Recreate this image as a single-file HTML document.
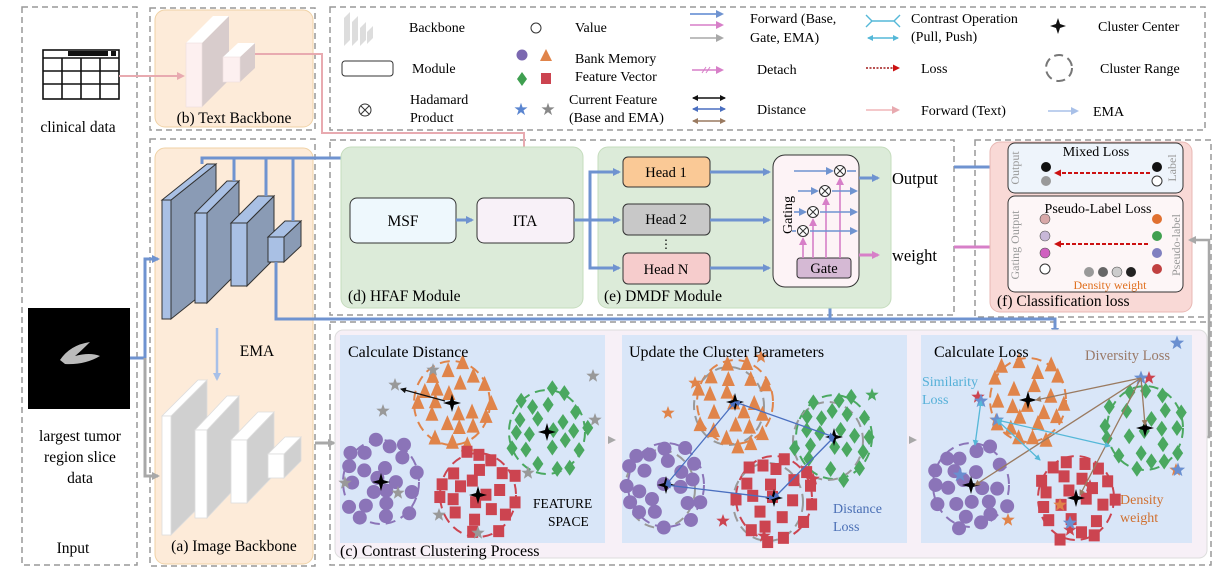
<!DOCTYPE html>
<html><head><meta charset="utf-8"><style>
html,body{margin:0;padding:0;background:#fff}
svg{display:block;font-family:"Liberation Serif",serif}
</style></head><body>
<svg id="s" width="1213" height="573" viewBox="0 0 1213 573" xmlns="http://www.w3.org/2000/svg">
<defs>
<marker id="ab" markerWidth="8" markerHeight="8" refX="6" refY="4" orient="auto" markerUnits="userSpaceOnUse"><path d="M0,0 L8,4 L0,8 z" fill="#6f93d0"/></marker>
<marker id="ap" markerWidth="8" markerHeight="8" refX="6" refY="4" orient="auto" markerUnits="userSpaceOnUse"><path d="M0,0 L8,4 L0,8 z" fill="#e8aab0"/></marker>
<marker id="am" markerWidth="8" markerHeight="8" refX="6" refY="4" orient="auto" markerUnits="userSpaceOnUse"><path d="M0,0 L8,4 L0,8 z" fill="#d77fc8"/></marker>
<marker id="ag" markerWidth="8" markerHeight="8" refX="6" refY="4" orient="auto" markerUnits="userSpaceOnUse"><path d="M0,0 L8,4 L0,8 z" fill="#a8a8a8"/></marker>
<marker id="al" markerWidth="8" markerHeight="8" refX="6" refY="4" orient="auto" markerUnits="userSpaceOnUse"><path d="M0,0 L8,4 L0,8 z" fill="#a8c0e8"/></marker>
<marker id="ar" markerWidth="7" markerHeight="7" refX="5" refY="3.5" orient="auto" markerUnits="userSpaceOnUse"><path d="M0,0 L7,3.5 L0,7 z" fill="#cc1111"/></marker>
<marker id="ak" markerWidth="6" markerHeight="6" refX="5" refY="3" orient="auto-start-reverse" markerUnits="userSpaceOnUse"><path d="M0,0 L6,3 L0,6 z" fill="#111"/></marker>
<marker id="ab2" markerWidth="6" markerHeight="6" refX="5" refY="3" orient="auto-start-reverse" markerUnits="userSpaceOnUse"><path d="M0,0 L6,3 L0,6 z" fill="#4a6fc0"/></marker>
<marker id="ac" markerWidth="6" markerHeight="6" refX="5" refY="3" orient="auto-start-reverse" markerUnits="userSpaceOnUse"><path d="M0,0 L6,3 L0,6 z" fill="#55b8d8"/></marker>
<marker id="abr" markerWidth="6" markerHeight="6" refX="5" refY="3" orient="auto-start-reverse" markerUnits="userSpaceOnUse"><path d="M0,0 L6,3 L0,6 z" fill="#9a7a60"/></marker>
</defs>
<g fill="none" stroke="#999" stroke-width="1.5" stroke-dasharray="6,4">
<rect x="22" y="7" width="115" height="558"/>
<rect x="150" y="8" width="165" height="122"/>
<rect x="150" y="139" width="165" height="427"/>
<rect x="330" y="7" width="875" height="123"/>
<rect x="330" y="140" width="624" height="175"/>
<rect x="975" y="140" width="236" height="177"/>
<rect x="330" y="322" width="881" height="243"/>
</g>
<rect x="155" y="10" width="158" height="117" rx="10" fill="#fdebd9" stroke="#f0d2a5"/>
<rect x="155" y="148" width="158" height="416" rx="10" fill="#fdebd9" stroke="#f0d2a5"/>
<g stroke="#111" stroke-width="1.6" fill="#fff">
<rect x="43" y="50" width="76" height="49"/>
<line x1="43" y1="58" x2="119" y2="58"/><line x1="43" y1="71" x2="119" y2="71"/><line x1="43" y1="84" x2="119" y2="84"/>
<line x1="62" y1="58" x2="62" y2="99"/><line x1="81" y1="58" x2="81" y2="99"/><line x1="100" y1="58" x2="100" y2="99"/>
</g>
<rect x="68" y="51" width="40" height="5" fill="#111"/><rect x="111" y="51" width="5" height="5" fill="#111"/>
<text x="78" y="132" font-size="15.5" text-anchor="middle">clinical data</text>
<rect x="28" y="308" width="102" height="101" fill="#000"/>
<path d="M60,360 Q70,345 90,342 Q80,352 75,356 Q90,352 100,356 Q85,365 65,364 Z" fill="#bbb"/>
<text x="80" y="441" font-size="15.5" text-anchor="middle">largest tumor</text>
<text x="80" y="462" font-size="15.5" text-anchor="middle">region slice</text>
<text x="80" y="483" font-size="15.5" text-anchor="middle">data</text>
<text x="73" y="553" font-size="15.5" text-anchor="middle">Input</text>
<polygon points="202,43 229,16 229,80 202,107" fill="#d8cccc"/><polygon points="186,43 202,43 229,16 213,16" fill="#fff"/>
<rect x="186" y="43" width="16" height="64" fill="#fdf0f0" stroke="#eedede" stroke-width=".6"/>
<polygon points="240,57 255,43 255,68 240,82" fill="#d8cccc"/><polygon points="223,57 240,57 255,43 238,43" fill="#fff"/>
<rect x="223" y="57" width="17" height="25" fill="#fdf0f0" stroke="#eedede" stroke-width=".6"/>
<text x="234" y="123" font-size="15.5" text-anchor="middle">(b) Text Backbone</text>
<line x1="119" y1="76" x2="183" y2="76" stroke="#e8aab0" stroke-width="2" marker-end="url(#ap)"/>
<polyline points="255,54 322,54 322,133 524,133 524,192" fill="none" stroke="#e8aab0" stroke-width="2" marker-end="url(#ap)"/>
<g stroke="#333" stroke-width="1">
<polygon points="171,200 216,164 216,283 171,319" fill="#8a9bb5"/><polygon points="162,200 171,200 216,164 207,164" fill="#a9c0e4"/><rect x="162" y="200" width="9" height="119" fill="#a9c0e4"/>
<polygon points="207,213 239,181 239,271 207,303" fill="#8a9bb5"/><polygon points="195,213 207,213 239,181 227,181" fill="#a9c0e4"/><rect x="195" y="213" width="12" height="90" fill="#a9c0e4"/>
<polygon points="247,223 274,196 274,259 247,286" fill="#8a9bb5"/><polygon points="231,223 247,223 274,196 258,196" fill="#a9c0e4"/><rect x="231" y="223" width="16" height="63" fill="#a9c0e4"/>
<polygon points="284,237 301,221 301,246 284,262" fill="#8a9bb5"/><polygon points="268,237 284,237 301,221 285,221" fill="#a9c0e4"/><rect x="268" y="237" width="16" height="25" fill="#a9c0e4"/>
</g>
<g fill="none" stroke="#6f93d0" stroke-width="3">
<polyline points="202,164 202,158 403,158 403,194" marker-end="url(#ab)"/>
<line x1="234" y1="158" x2="234" y2="181"/><line x1="266" y1="158" x2="266" y2="196"/><line x1="293" y1="158" x2="293" y2="221"/>
<polyline points="276,262 276,319 1055,319 1055,334" marker-end="url(#ab)"/>
<polyline points="830,319 830,286" marker-end="url(#ab)"/>
<polyline points="130,358 145,358 145,259 158,259" marker-end="url(#ab)"/>
</g>
<polyline points="145,358 145,476 158,476" fill="none" stroke="#a8a8a8" stroke-width="3" marker-end="url(#ag)"/>
<line x1="217" y1="328" x2="217" y2="379" stroke="#a8c0e8" stroke-width="2.5" marker-end="url(#al)"/>
<text x="257" y="356" font-size="15.5" text-anchor="middle">EMA</text>
<g stroke="#ddd" stroke-width=".8">
<polygon points="171,416 207,380 207,499 171,535" fill="#d0d0d0"/><polygon points="162,416 171,416 207,380 198,380" fill="#fff"/><rect x="162" y="416" width="9" height="119" fill="#fff"/>
<polygon points="207,430 239,396 239,484 207,518" fill="#d0d0d0"/><polygon points="195,430 207,430 239,396 227,396" fill="#fff"/><rect x="195" y="430" width="12" height="88" fill="#fff"/>
<polygon points="247,440 274,412 274,475 247,503" fill="#d0d0d0"/><polygon points="231,440 247,440 274,412 258,412" fill="#fff"/><rect x="231" y="440" width="16" height="63" fill="#fff"/>
<polygon points="284,454 301,437 301,461 284,478" fill="#d0d0d0"/><polygon points="268,454 284,454 301,437 285,437" fill="#fff"/><rect x="268" y="454" width="16" height="24" fill="#fff"/>
</g>
<line x1="315" y1="443" x2="334" y2="443" stroke="#a8a8a8" stroke-width="3" marker-end="url(#ag)"/>
<text x="234" y="551" font-size="15.5" text-anchor="middle">(a) Image Backbone</text>
<g font-size="14">
<polygon points="344,18 350,12 350,40 344,46" fill="#ddd"/><polygon points="352,22 358,16 358,40 352,46" fill="#ddd"/><polygon points="360,28 366,22 366,40 360,46" fill="#ddd"/><polygon points="367,32 373,26 373,38 367,44" fill="#ddd"/>
<text x="409" y="32">Backbone</text>
<rect x="342" y="61" width="51" height="15" rx="3" fill="#fff" stroke="#333"/><text x="412" y="73">Module</text>
<circle cx="365" cy="110" r="6" fill="#fff" stroke="#333"/><path d="M361,106 L369,114 M369,106 L361,114" stroke="#333"/>
<text x="410" y="104">Hadamard</text><text x="410" y="122">Product</text>
<circle cx="536" cy="28" r="5" fill="#fff" stroke="#333"/><text x="575" y="32">Value</text>
<circle cx="522" cy="55" r="5.5" fill="#7b68b0"/><polygon points="546,49 552,61 540,61" fill="#e0844a"/>
<polygon points="522,72 527,79 522,86 517,79" fill="#3f9f50"/><rect x="541" y="73" width="10" height="11" fill="#cc4450"/>
<text x="575" y="63">Bank Memory</text><text x="575" y="81">Feature Vector</text>
<text x="521" y="115" font-size="17" fill="#5a85d0" text-anchor="middle">★</text><text x="548" y="115" font-size="17" fill="#888" text-anchor="middle">★</text>
<text x="569" y="104">Current Feature</text><text x="569" y="122">(Base and EMA)</text>
<line x1="690" y1="14" x2="722" y2="14" stroke="#5a85d0" stroke-width="1.6" marker-end="url(#ab)"/>
<line x1="690" y1="25" x2="722" y2="25" stroke="#d77fc8" stroke-width="1.6" marker-end="url(#am)"/>
<line x1="690" y1="38" x2="722" y2="38" stroke="#a8a8a8" stroke-width="1.6" marker-end="url(#ag)"/>
<text x="750" y="23">Forward (Base,</text><text x="750" y="42">Gate, EMA)</text>
<line x1="692" y1="70" x2="722" y2="70" stroke="#d77fc8" stroke-width="1.6" marker-end="url(#am)"/><path d="M702,73 L706,67 M706,73 L710,67" stroke="#d77fc8"/>
<text x="757" y="74">Detach</text>
<line x1="693" y1="98" x2="725" y2="98" stroke="#111" stroke-width="1.4" marker-start="url(#ak)" marker-end="url(#ak)"/>
<line x1="693" y1="109" x2="725" y2="109" stroke="#4a6fc0" stroke-width="1.4" marker-start="url(#ab2)" marker-end="url(#ab2)"/>
<line x1="693" y1="121" x2="725" y2="121" stroke="#9a7a60" stroke-width="1.4" marker-start="url(#abr)" marker-end="url(#abr)"/>
<text x="757" y="114">Distance</text>
<path d="M866,15 L872,21 L894,21 L900,15 M866,27 L872,21 M894,21 L900,27" stroke="#55b8d8" fill="none" stroke-width="1.4"/>
<line x1="868" y1="38" x2="898" y2="38" stroke="#55b8d8" stroke-width="1.4" marker-start="url(#ac)" marker-end="url(#ac)"/>
<text x="911" y="23">Contrast Operation</text><text x="911" y="41">(Pull, Push)</text>
<line x1="866" y1="68" x2="898" y2="68" stroke="#a01818" stroke-width="1.5" stroke-dasharray="2,1.5" marker-end="url(#ar)"/><text x="921" y="73">Loss</text>
<line x1="866" y1="110" x2="898" y2="110" stroke="#f0b5b8" stroke-width="1.6" marker-end="url(#ap)"/><text x="921" y="115">Forward (Text)</text>
<path d="M1058,18 L1060,24 L1066,26 L1060,28 L1058,34 L1056,28 L1050,26 L1056,24 Z" fill="#111"/><text x="1098" y="31">Cluster Center</text>
<circle cx="1059" cy="68" r="13" fill="none" stroke="#777" stroke-width="2" stroke-dasharray="9,5"/><text x="1100" y="73">Cluster Range</text>
<line x1="1048" y1="111" x2="1077" y2="111" stroke="#a8c0e8" stroke-width="1.6" marker-end="url(#al)"/><text x="1093" y="116">EMA</text>
</g>
<rect x="341" y="147" width="242" height="161" rx="10" fill="#dcebd9" stroke="#c5dcbd"/>
<rect x="350" y="198" width="106" height="45" rx="7" fill="#eef8fd" stroke="#333"/>
<text x="403" y="226" font-size="15.5" text-anchor="middle">MSF</text>
<rect x="477" y="198" width="97" height="45" rx="7" fill="#f8f1f8" stroke="#333"/>
<text x="525" y="226" font-size="15.5" text-anchor="middle">ITA</text>
<line x1="456" y1="220" x2="472" y2="220" stroke="#6f93d0" stroke-width="3" marker-end="url(#ab)"/>
<text x="348" y="301" font-size="15.5">(d) HFAF Module</text>
<rect x="598" y="147" width="293" height="161" rx="10" fill="#dcebd9" stroke="#c5dcbd"/>
<rect x="623" y="157" width="87" height="30" rx="5" fill="#fac996" stroke="#333"/><text x="666" y="177" font-size="14.5" text-anchor="middle">Head 1</text>
<rect x="623" y="204" width="87" height="31" rx="5" fill="#c8c8c8" stroke="#333"/><text x="666" y="224" font-size="14.5" text-anchor="middle">Head 2</text>
<text x="666" y="248" font-size="12" text-anchor="middle">⋮</text>
<rect x="623" y="253" width="87" height="31" rx="5" fill="#f6cccc" stroke="#333"/><text x="666" y="274" font-size="14.5" text-anchor="middle">Head N</text>
<g fill="none" stroke="#6f93d0" stroke-width="3">
<polyline points="574,220 590,220 590,172 619,172" marker-end="url(#ab)"/>
<polyline points="590,220 619,220" marker-end="url(#ab)"/>
<polyline points="590,220 590,268 619,268" marker-end="url(#ab)"/>
<line x1="710" y1="172" x2="769" y2="172" marker-end="url(#ab)"/>
<line x1="710" y1="220" x2="769" y2="220" marker-end="url(#ab)"/>
<line x1="710" y1="268" x2="769" y2="268" marker-end="url(#ab)"/>
</g>
<text x="604" y="301" font-size="15.5">(e) DMDF Module</text>
<rect x="773" y="155" width="86" height="132" rx="12" fill="#fdf3f6" stroke="#333"/>
<text transform="translate(792,215) rotate(-90)" font-size="14" text-anchor="middle">Gating</text>
<rect x="797" y="258" width="54" height="20" rx="3" fill="#d5b9d4" stroke="#333"/><text x="824" y="273" font-size="14.5" text-anchor="middle">Gate</text>
<g stroke="#d77fc8" stroke-width="1.6" fill="none">
<line x1="803" y1="258" x2="803" y2="239" marker-end="url(#am)"/><line x1="813" y1="258" x2="813" y2="220" marker-end="url(#am)"/>
<line x1="826" y1="258" x2="826" y2="199" marker-end="url(#am)"/><line x1="840" y1="258" x2="840" y2="179" marker-end="url(#am)"/>
</g>
<g stroke="#6f93d0" stroke-width="1.6" fill="none">
<line x1="794" y1="171" x2="832" y2="171" marker-end="url(#ab)"/><line x1="847" y1="171" x2="856" y2="171"/>
<line x1="798" y1="191" x2="817" y2="191" marker-end="url(#ab)"/><line x1="832" y1="191" x2="856" y2="191" marker-end="url(#ab)"/>
<line x1="794" y1="212" x2="805" y2="212" marker-end="url(#ab)"/><line x1="820" y1="212" x2="856" y2="212" marker-end="url(#ab)"/>
<line x1="792" y1="231" x2="796" y2="231"/><line x1="810" y1="231" x2="856" y2="231" marker-end="url(#ab)"/>
</g>
<g fill="#fff" stroke="#333">
<circle cx="840" cy="171" r="5.5"/><circle cx="825" cy="191" r="5.5"/><circle cx="813" cy="212" r="5.5"/><circle cx="803" cy="231" r="5.5"/>
<path d="M836,167 L844,175 M844,167 L836,175 M821,187 L829,195 M829,187 L821,195 M809,208 L817,216 M817,208 L809,216 M799,227 L807,235 M807,227 L799,235"/>
</g>
<line x1="859" y1="178" x2="878" y2="178" stroke="#6f93d0" stroke-width="3" marker-end="url(#ab)"/>
<line x1="859" y1="255" x2="878" y2="255" stroke="#d77fc8" stroke-width="3" marker-end="url(#am)"/>
<text x="892" y="184" font-size="16.5">Output</text>
<text x="892" y="261" font-size="16.5">weight</text>
<line x1="954" y1="167" x2="1002" y2="167" stroke="#6f93d0" stroke-width="3" marker-end="url(#ab)"/>
<line x1="954" y1="247" x2="1002" y2="247" stroke="#d77fc8" stroke-width="3" marker-end="url(#am)"/>
<rect x="990" y="142" width="202" height="170" rx="10" fill="#f9d9d6" stroke="#e8b8b4"/>
<rect x="1008" y="143" width="175" height="50" rx="7" fill="#eef4fb" stroke="#333"/>
<text x="1096" y="156" font-size="14" text-anchor="middle">Mixed Loss</text>
<text transform="translate(1019,168) rotate(-90)" font-size="12" fill="#999" text-anchor="middle">Output</text>
<text transform="translate(1176,168) rotate(-90)" font-size="12" fill="#999" text-anchor="middle">Label</text>
<circle cx="1046" cy="167" r="5" fill="#111"/><circle cx="1046" cy="181" r="5" fill="#999"/>
<circle cx="1157" cy="167" r="5" fill="#111"/><circle cx="1157" cy="181" r="5" fill="#fff" stroke="#333"/>
<line x1="1150" y1="173" x2="1056" y2="173" stroke="#cc1111" stroke-width="2" stroke-dasharray="4,2" marker-end="url(#ar)"/>
<rect x="1008" y="196" width="175" height="96" rx="7" fill="#fdf6f7" stroke="#333"/>
<text x="1098" y="213" font-size="14" text-anchor="middle">Pseudo-Label Loss</text>
<text transform="translate(1019,245) rotate(-90)" font-size="12" fill="#999" text-anchor="middle">Gating Output</text>
<text transform="translate(1180,245) rotate(-90)" font-size="12" fill="#999" text-anchor="middle">Pseudo-label</text>
<circle cx="1045" cy="219" r="5" fill="#d8a8a8" stroke="#555" stroke-width=".6"/><circle cx="1045" cy="236" r="5" fill="#c8b8d8" stroke="#555" stroke-width=".6"/><circle cx="1045" cy="253" r="5" fill="#d060c0" stroke="#555" stroke-width=".6"/><circle cx="1045" cy="269" r="5" fill="#fff" stroke="#333"/>
<circle cx="1157" cy="219" r="5" fill="#e07030"/><circle cx="1157" cy="236" r="5" fill="#40a050"/><circle cx="1157" cy="253" r="5" fill="#8080c0"/><circle cx="1157" cy="269" r="5" fill="#c04040"/>
<line x1="1148" y1="244" x2="1056" y2="244" stroke="#cc1111" stroke-width="2" stroke-dasharray="4,2" marker-end="url(#ar)"/>
<circle cx="1089" cy="272" r="5" fill="#999"/><circle cx="1103" cy="272" r="5" fill="#666"/><circle cx="1117" cy="272" r="5" fill="#ccc" stroke="#555" stroke-width=".6"/><circle cx="1131" cy="272" r="5" fill="#222"/>
<text x="1110" y="289" font-size="12" fill="#e07020" text-anchor="middle">Density weight</text>
<text x="997" y="306" font-size="15.5">(f) Classification loss</text>
<polyline points="1202,437 1209,437 1209,240 1190,240" fill="none" stroke="#a8a8a8" stroke-width="2.5" marker-end="url(#ag)"/>
<rect x="335" y="330" width="872" height="228" rx="8" fill="#f7f0f7" stroke="#ddd"/>
<rect x="340" y="335" width="265" height="208" fill="#d9e6f8"/>
<rect x="622" y="335" width="285" height="208" fill="#d9e6f8"/>
<rect x="921" y="335" width="271" height="208" fill="#d9e6f8"/>
<polygon points="608,436 616,440 608,444" fill="#a8a8a8"/><polygon points="909,436 917,440 909,444" fill="#a8a8a8"/>
<g id="clusters"></g>
<text x="348" y="357" font-size="16">Calculate Distance</text>
<text x="533" y="508" font-size="13.5">FEATURE</text><text x="548" y="526" font-size="13.5">SPACE</text>
<text x="629" y="357" font-size="16">Update the Cluster Parameters</text>
<text x="833" y="513" font-size="14" fill="#4a6fb5">Distance</text><text x="833" y="531" font-size="14" fill="#4a6fb5">Loss</text>
<text x="934" y="357" font-size="16">Calculate Loss</text>
<text x="1085" y="360" font-size="14.5" fill="#9a7a68">Diversity Loss</text>
<text x="922" y="386" font-size="14" fill="#55b0d8">Similarity</text><text x="922" y="404" font-size="14" fill="#55b0d8">Loss</text>
<text x="1120" y="504" font-size="14" fill="#d07030">Density</text><text x="1120" y="522" font-size="14" fill="#d07030">weight</text>
<text x="340" y="556" font-size="16">(c) Contrast Clustering Process</text>
</svg>
<script>
(function(){
var g=document.getElementById('clusters'),NS='http://www.w3.org/2000/svg';
var seed=7;function r(){seed=(seed*16807)%2147483647;return seed/2147483647;}
function el(t,a){var e=document.createElementNS(NS,t);for(var k in a)e.setAttribute(k,a[k]);g.appendChild(e);return e;}
var C={p:'#8b74b8',o:'#e0844a',g:'#4aa860',r:'#cc4450'};
function shape(k,x,y){
 if(k=='p')el('circle',{cx:x,cy:y,r:7,fill:C.p});
 else if(k=='o')el('polygon',{points:(x)+','+(y-8)+' '+(x+6.5)+','+(y+7)+' '+(x-6.5)+','+(y+7),fill:C.o});
 else if(k=='g')el('polygon',{points:x+','+(y-8)+' '+(x+5.5)+','+y+' '+x+','+(y+8)+' '+(x-5.5)+','+y,fill:C.g});
 else el('rect',{x:x-5.5,y:y-6,width:11,height:12,fill:C.r});
}
function star(x,y,c,s){s=s||7;var p=[];for(var i=0;i<10;i++){var a=-Math.PI/2+i*Math.PI/5,rr=i%2?s*0.42:s;p.push((x+rr*Math.cos(a)).toFixed(1)+','+(y+rr*Math.sin(a)).toFixed(1));}el('polygon',{points:p.join(' '),fill:c});}
function cen(x,y){el('path',{d:'M'+x+','+(y-9)+' L'+(x+2)+','+(y-2)+' L'+(x+9)+','+y+' L'+(x+2)+','+(y+2)+' L'+x+','+(y+9)+' L'+(x-2)+','+(y+2)+' L'+(x-9)+','+y+' L'+(x-2)+','+(y-2)+' Z',fill:'#000'});}
function cluster(k,cx,cy,rx,ry,n,gray){
 el('ellipse',{cx:cx,cy:cy,rx:rx,ry:ry,fill:'none',stroke:C[k],'stroke-width':2,'stroke-dasharray':'10,6'});
 if(gray)el('ellipse',{cx:cx+gray[0],cy:cy+gray[1],rx:rx-3,ry:ry-3,fill:'none',stroke:'#999','stroke-width':2,'stroke-dasharray':'10,6'});
 var pts=[];
 for(var i=0;i<n*6&&pts.length<n;i++){var a=r()*6.283,d=Math.sqrt(r())*1.08;var x=cx+Math.cos(a)*rx*d,y=cy+Math.sin(a)*ry*d;var ok=true;for(var j=0;j<pts.length;j++){var dx=pts[j][0]-x,dy=pts[j][1]-y;if(dx*dx+dy*dy<150){ok=false;break;}}if(ok)pts.push([x,y]);}
 pts.forEach(function(p){shape(k,p[0],p[1]);});
}
var panels=[[[452,403],[547,432],[381,482],[478,495]],[[735,402],[834,437],[666,485],[774,498]],[[1028,400],[1145,428],[971,485],[1076,498]]];
var ks=['o','g','p','r'];
panels.forEach(function(P,pi){
 P.forEach(function(c,i){cluster(ks[i],c[0],c[1],38,42,22,pi==1?[-6,4]:null);});
 P.forEach(function(c){cen(c[0],c[1]);});
});
[[395,385],[383,411],[433,370],[595,420],[593,376],[345,483],[398,493],[439,515],[528,473],[478,533]].forEach(function(s){star(s[0],s[1],'#999',7);});
el('line',{x1:401,y1:389,x2:445,y2:401,stroke:'#111','stroke-width':1.2,'marker-start':'url(#ak)'});
[[695,383],[668,413],[761,357],[872,395],[813,479],[723,521],[764,536]].forEach(function(s,i){star(s[0],s[1],i<3?'#e0844a':(i<4?'#4aa860':'#cc4450'),7);});
var P=panels[1];[[0,1],[0,2],[2,3],[3,1]].forEach(function(e){el('line',{x1:P[e[0]][0],y1:P[e[0]][1],x2:P[e[1]][0],y2:P[e[1]][1],stroke:'#4a6fc0','stroke-width':1.3,'marker-start':'url(#ab2)','marker-end':'url(#ab2)'});});
[[978,397],[996,420],[1149,378],[1176,470],[1090,486],[1060,505],[1070,530],[1008,520]].forEach(function(s,i){star(s[0],s[1],i%2?'#e0844a':'#cc4450',7);});
[[1141,378],[981,401],[997,420],[1178,470],[1070,523],[1177,343],[960,475]].forEach(function(s){star(s[0],s[1],'#6a8fd0',7.5);});
P=panels[2];
[[1141,378,1036,400],[1141,378,975,485],[1141,378,1145,425],[1141,378,1080,495]].forEach(function(l){el('line',{x1:l[0],y1:l[1],x2:l[2],y2:l[3],stroke:'#9a7a60','stroke-width':1.3,'marker-end':'url(#abr)'});});
[[997,420,1110,446],[997,420,1040,460],[981,401,975,445]].forEach(function(l){el('line',{x1:l[0],y1:l[1],x2:l[2],y2:l[3],stroke:'#55b8d8','stroke-width':1.3,'marker-start':'url(#ac)','marker-end':'url(#ac)'});});
})();
</script>
</body></html>
